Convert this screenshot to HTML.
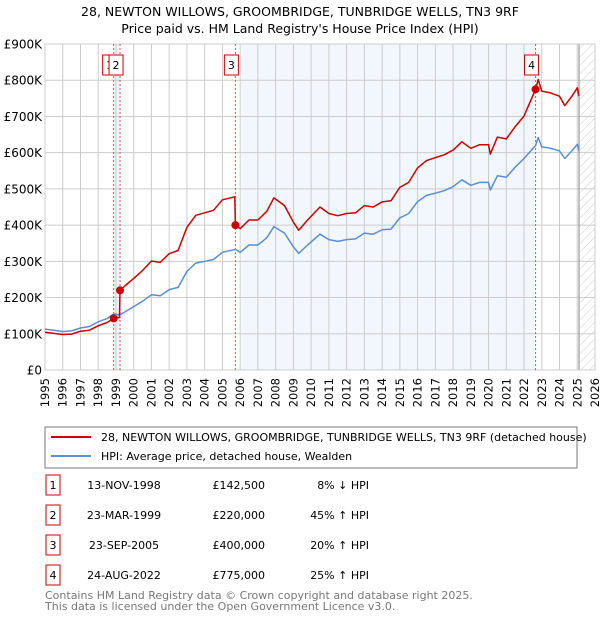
<!DOCTYPE html>
<html><head><meta charset="utf-8"><style>
body{margin:0;background:#fff;font-family:"Liberation Sans","DejaVu Sans",sans-serif;}
svg text{font-family:"DejaVu Sans","Liberation Sans",sans-serif;}
</style></head><body>
<svg id="c" width="600" height="620" xmlns="http://www.w3.org/2000/svg">
<defs><pattern id="hatch" width="6" height="6" patternUnits="userSpaceOnUse" patternTransform="rotate(45)"><line x1="0" y1="0" x2="0" y2="6" stroke="#ccc" stroke-width="1"/></pattern></defs>
<text x="300" y="16" text-anchor="middle" font-size="12.5" fill="#000">28, NEWTON WILLOWS, GROOMBRIDGE, TUNBRIDGE WELLS, TN3 9RF</text>
<text x="300" y="33" text-anchor="middle" font-size="12.5" fill="#000">Price paid vs. HM Land Registry's House Price Index (HPI)</text>
<g id="plot"></g>
<rect x="45" y="427" width="532" height="41" fill="#fff" stroke="#777" stroke-width="1"/>
<line x1="51" y1="437" x2="91" y2="437" stroke="#cc0000" stroke-width="2"/>
<text x="101" y="441" font-size="11">28, NEWTON WILLOWS, GROOMBRIDGE, TUNBRIDGE WELLS, TN3 9RF (detached house)</text>
<line x1="51" y1="456" x2="91" y2="456" stroke="#5b8fd0" stroke-width="2"/>
<text x="101" y="460" font-size="11">HPI: Average price, detached house, Wealden</text>
<g id="table" font-size="11"></g>
<text x="45" y="599" font-size="11" fill="#777">Contains HM Land Registry data © Crown copyright and database right 2025.</text>
<text x="45" y="610" font-size="11" fill="#777">This data is licensed under the Open Government Licence v3.0.</text>
</svg>
<script>
const hpiYears=[1995.0,1995.5,1996.0,1996.5,1997.0,1997.5,1998.0,1998.5,1998.87,1999.23,1999.5,2000.0,2000.5,2001.0,2001.5,2002.0,2002.5,2003.0,2003.5,2004.0,2004.5,2005.0,2005.73,2006.0,2006.5,2007.0,2007.5,2007.9,2008.5,2009.0,2009.3,2009.8,2010.5,2011.0,2011.5,2012.0,2012.5,2013.0,2013.5,2014.0,2014.5,2015.0,2015.5,2016.0,2016.5,2017.0,2017.5,2018.0,2018.5,2019.0,2019.5,2020.0,2020.1,2020.5,2021.0,2021.5,2022.0,2022.65,2022.8,2023.0,2023.5,2024.0,2024.3,2024.7,2025.0,2025.1];
const hpiValues=[113,110,106,108,116,120,133,142,155,152,160,175,190,208,205,222,228,272,295,300,305,325,333,325,345,345,365,396,378,340,322,345,375,360,355,360,362,378,375,387,389,420,432,465,482,488,495,506,525,510,518,518,497,536,532,560,584,620,642,616,612,605,584,605,623,605];
const redYears=[1995.0,1995.5,1996.0,1996.5,1997.0,1997.5,1998.0,1998.5,1998.87,1999.2,1999.23,1999.5,2000.0,2000.5,2001.0,2001.5,2002.0,2002.5,2003.0,2003.5,2004.0,2004.5,2005.0,2005.7,2005.73,2006.0,2006.5,2007.0,2007.5,2007.9,2008.5,2009.0,2009.3,2009.8,2010.5,2011.0,2011.5,2012.0,2012.5,2013.0,2013.5,2014.0,2014.5,2015.0,2015.5,2016.0,2016.5,2017.0,2017.5,2018.0,2018.5,2019.0,2019.5,2020.0,2020.1,2020.5,2021.0,2021.5,2022.0,2022.65,2022.8,2023.0,2023.5,2024.0,2024.3,2024.7,2025.0,2025.1];
const redValues=[104,101,98,99,107,110,122,131,142.5,145,220,232,253,275,301,297,321,330,394,427,434,441,470,478,400,390,414,414,438,475,454,408,386,414,450,432,426,432,434,454,450,464,467,504,518,558,578,586,594,607,630,612,622,622,596,643,638,672,701,775,802,770,765,756,730,756,779,756];
const saleLabels=["1","2","3","4"];
const saleYears=[1998.87,1999.23,2005.73,2022.65];
const salePrices=[142.5,220,400,775];
const saleDates=["13-NOV-1998","23-MAR-1999","23-SEP-2005","24-AUG-2022"];
const salePriceText=["£142,500","£220,000","£400,000","£775,000"];
const saleHpiText=["8% ↓ HPI","45% ↑ HPI","20% ↑ HPI","25% ↑ HPI"];
const yTicks=[0,100,200,300,400,500,600,700,800,900];
const yTickLabels=["£0","£100K","£200K","£300K","£400K","£500K","£600K","£700K","£800K","£900K"];
const xTicks=[1995,1996,1997,1998,1999,2000,2001,2002,2003,2004,2005,2006,2007,2008,2009,2010,2011,2012,2013,2014,2015,2016,2017,2018,2019,2020,2021,2022,2023,2024,2025,2026];

const X0=45,X1=595,Y0=370,Y1=44;
const xs=y=>X0+(y-1995)/(2026-1995)*(X1-X0);
const ys=v=>Y0-v/900*(Y0-Y1);
const NS="http://www.w3.org/2000/svg";
const plot=document.getElementById('plot');
function mk(tag,attrs,parent){const e=document.createElementNS(NS,tag);for(const k in attrs)e.setAttribute(k,attrs[k]);(parent||plot).appendChild(e);return e;}

let e=mk('rect',{x:X0,y:Y1,width:X1-X0,height:Y0-Y1,fill:'#fff'});


e=mk('rect',{x:xs(saleYears[0]),y:Y1,width:xs(saleYears[1])-xs(saleYears[0]),height:Y0-Y1,fill:'#eef3fc'});


e=mk('rect',{x:xs(2006.05),y:Y1,width:xs(saleYears[3])-xs(2006.05),height:Y0-Y1,fill:'#f2f6fd'});


e=mk('rect',{x:xs(2025.15),y:Y1,width:X1-xs(2025.15),height:Y0-Y1,fill:'url(#hatch)'});



xTicks.forEach(t=>{
  const l=mk('line',{x1:xs(t),x2:xs(t),y1:Y1,y2:Y0,stroke:'#cccccc','stroke-width':1});
  
  
  const tx=mk('text',{x:0,y:0,'font-size':11.5,'text-anchor':'end',transform:`translate(${xs(t)+4},378) rotate(-90)`});
  tx.textContent=t;
  
  
});
yTicks.forEach((t,i)=>{
  const l=mk('line',{x1:X0,x2:X1,y1:ys(t),y2:ys(t),stroke:'#cccccc','stroke-width':1});
  
  
  const tx=mk('text',{x:42,y:ys(t)+4.5,'font-size':12,'text-anchor':'end'});
  tx.textContent=yTickLabels[i];
  
  
});
e=mk('line',{x1:xs(2025.1),x2:xs(2025.1),y1:Y1,y2:Y0,stroke:'#888','stroke-width':1});


e=mk('rect',{x:X0,y:Y1,width:X1-X0,height:Y0-Y1,fill:'none',stroke:'#cccccc'});



saleYears.forEach((y,i)=>{
  const l=mk('line',{x1:xs(y),x2:xs(y),y1:Y1,y2:Y0,stroke:'#e05050','stroke-width':1,'stroke-dasharray':'2,2'});
  
  
});

const pts=(xa,va)=>xa.map((x,i)=>xs(x).toFixed(1)+','+ys(va[i]).toFixed(1)).join(' ');
e=mk('polyline',{points:pts(hpiYears,hpiValues),fill:'none',stroke:'#5b8fd0','stroke-width':1.5,'stroke-linejoin':'round'});


e=mk('polyline',{points:pts(redYears,redValues),fill:'none',stroke:'#cc0000','stroke-width':1.5,'stroke-linejoin':'round'});



saleYears.forEach((y,i)=>{
  const c=mk('circle',{cx:xs(y),cy:ys(salePrices[i]),r:4,fill:'#cc0000'});
  
  
  const bx=xs(y)-11;
  const r=mk('rect',{x:bx,y:55,width:14,height:20,fill:'#fff',stroke:'#cc0000','stroke-width':1});
  
  
  const t=mk('text',{x:bx+7,y:69,'font-size':11,'text-anchor':'middle'});
  t.textContent=saleLabels[i];
  
  
});

const tb=document.getElementById('table');
const rowY=[485,515,545,575];
saleLabels.forEach((s,i)=>{
  const cy=rowY[i];
  let r=mk('rect',{x:46,y:cy-10,width:14,height:20,fill:'#fff',stroke:'#cc0000','stroke-width':1},tb);
  
  
  let t=mk('text',{x:53,y:cy+4,'text-anchor':'middle'},tb);t.textContent=s;
  
  
  t=mk('text',{x:124,y:cy+4,'text-anchor':'middle'},tb);t.textContent=saleDates[i];
  
  
  t=mk('text',{x:265,y:cy+4,'text-anchor':'end'},tb);t.textContent=salePriceText[i];
  
  
  t=mk('text',{x:369,y:cy+4,'text-anchor':'end'},tb);t.textContent=saleHpiText[i];
  
  
});
</script>
</body></html>
